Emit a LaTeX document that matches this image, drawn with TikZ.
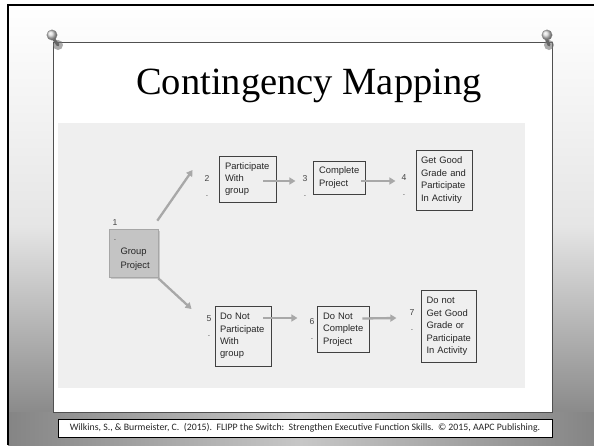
\documentclass[tikz,border=0pt]{standalone}
\usepackage{fontspec}
\setmainfont{Liberation Sans}
\newfontfamily\titlefont{Liberation Serif}
\newfontfamily\citefont{Carlito}
\usetikzlibrary{arrows.meta,shadows}
\definecolor{txtgray}{HTML}{262626}
\definecolor{numgray}{HTML}{444444}
\definecolor{arrgray}{HTML}{A8A8A8}
\definecolor{imgbg}{HTML}{EFEFEF}
\definecolor{gpfill}{HTML}{C4C4C4}
\definecolor{panelline}{HTML}{505050}
\tikzset{
  stepbox/.style={draw=black!75, line width=0.9pt, fill=none, inner sep=0pt,
    text=txtgray, font=\fontsize{9.4}{12.4}\selectfont, align=left},
  numlbl/.style={text=numgray, inner sep=0pt, align=center, font=\fontsize{8.6}{15}\selectfont},
  arr/.style={draw=arrgray, line width=2.3pt, -{Triangle[length=6pt,width=7pt]}},
  pinhead/.style={ball color=white!85!black, draw=black!50, line width=0.3pt},
}
\begin{document}
\begin{tikzpicture}[x=1pt,y=-1pt]
\useasboundingbox (0,0) rectangle (594,445);
% outer slide background
\fill[white] (0,0) rectangle (594,445);
\shade[top color=white, bottom color=black!52, middle color=white!90!black] (8,5) rectangle (594,445);
\shade[left color=black!48, right color=black!48, middle color=black!22] (8,412) rectangle (594,445);
\draw[black, line width=2.5pt] (8,445) -- (8,5) -- (594,5);
% panel
\fill[white] (53,42) rectangle (552,412);
\draw[panelline, line width=0.9pt] (53,42) rectangle (552,412);
% pushpins
\fill[black!55, opacity=0.6] (58,45) circle (5);
\draw[black!60, line width=3pt, line cap=round] (53,38) -- (58,45);
\shade[pinhead] (52,35) circle (5.2);
\fill[black!55, opacity=0.6] (549,45) circle (5);
\draw[black!60, line width=3pt, line cap=round] (546,38) -- (549,45);
\shade[pinhead] (547,35) circle (5.2);
% title
\node[font=\titlefont\fontsize{38.5}{40}\selectfont, text=black] (title) at (309,86) {Contingency Mapping};
% image region
\fill[imgbg] (58,123) rectangle (525,388);
% group project
\node[draw=black!35, fill=gpfill, line width=0.6pt, minimum width=49pt, minimum height=48pt, inner sep=0pt,
  drop shadow={shadow xshift=1.5pt, shadow yshift=-1.5pt, opacity=0.35}] (gp) at (133.5,253) {};
\node[text=txtgray, font=\fontsize{9.4}{14}\selectfont, align=left, anchor=west] (gptext) at (117,259) {Group\\Project};
% boxes
\node[stepbox, minimum width=57pt, minimum height=46pt, text width=45pt] (b2) at (247.5,179) {Participate\\With\\group};
\node[stepbox, minimum width=52pt, minimum height=33pt, text width=40pt] (b3) at (339,177.5) {Complete\\Project};
\node[stepbox, minimum width=56pt, minimum height=60pt, text width=46pt] (b4) at (444,180) {Get Good\\Grade and\\Participate\\In Activity};
\node[stepbox, minimum width=56pt, minimum height=60pt, text width=46pt] (b5) at (243,336) {Do Not\\Participate\\With\\group};
\node[stepbox, minimum width=52pt, minimum height=46pt, text width=40pt] (b6) at (343,329.5) {Do Not\\Complete\\Project};
\node[stepbox, minimum width=55pt, minimum height=72pt, text width=44pt] (b7) at (448.5,326.5) {Do not\\Get Good\\Grade or\\Participate\\In Activity};
% number labels
\node[numlbl] (l1) at (115,230.5) {1\\.};
\node[numlbl] (l2) at (207,185.5) {2\\.};
\node[numlbl] (l3) at (305,185.5) {3\\.};
\node[numlbl] (l4) at (404,185.5) {4\\.};
\node[numlbl] (l5) at (209,326.5) {5\\.};
\node[numlbl] (l6) at (312,328.5) {6\\.};
\node[numlbl] (l7) at (412,320.5) {7\\.};
% arrows
\draw[arr] ([xshift=-1pt,yshift=8pt]gp.north east) -- ([xshift=-26pt,yshift=9pt]b2.west);
\draw[arr] ([yshift=-1pt]gp.south east) -- ([xshift=-23pt,yshift=27pt]b5.west);
\draw[arr] ([xshift=-13pt,yshift=-2pt]b2.east) -- ([xshift=-7pt,yshift=4.5pt]l3.west);
\draw[arr] ([xshift=-4pt,yshift=-3.5pt]b3.east) -- ([xshift=-6pt,yshift=4.5pt]l4.west);
\draw[arr] ([xshift=-8pt,yshift=18pt]b5.east) -- ([xshift=-12pt,yshift=10.5pt]l6.west);
\draw[arr] ([xshift=-7pt,yshift=11pt]b6.east) -- ([xshift=-13pt,yshift=2.5pt]l7.west);
% citation
\node[draw=black, fill=white, line width=0.9pt, minimum width=494pt, minimum height=18pt, inner sep=0pt] (cite) at (305,428) {};
\node[font=\citefont\fontsize{9.8}{11}\selectfont, text=black!85] (citetext) at (cite.center) {Wilkins, S., \& Burmeister, C.\ \ (2015).\ \ FLIPP the Switch:\ \ Strengthen Executive Function Skills.\ \ © 2015, AAPC Publishing.};
\end{tikzpicture}
\end{document}
